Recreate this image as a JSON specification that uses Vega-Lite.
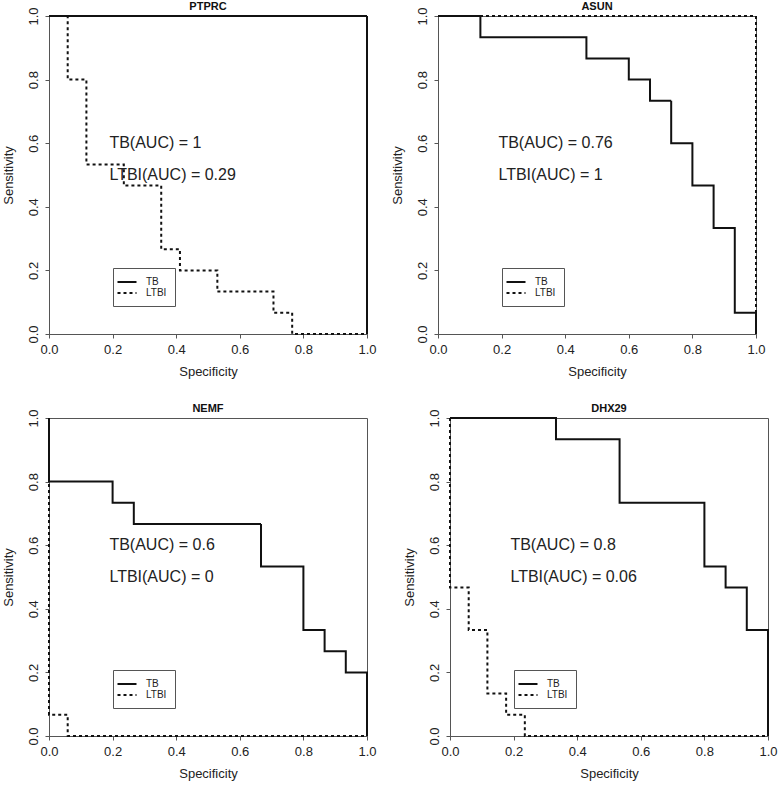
{
  "$schema": "https://vega.github.io/schema/vega-lite/v6.json",
  "padding": {"left": 1, "top": 0, "right": 0, "bottom": 0},
  "background": "white",
  "datasets": {
    "roc": [
      {"gene": "PTPRC", "group": "TB", "spec": 0, "sens": 1},
      {"gene": "PTPRC", "group": "TB", "spec": 1, "sens": 1},
      {"gene": "PTPRC", "group": "TB", "spec": 1, "sens": 0},
      {"gene": "PTPRC", "group": "LTBI", "spec": 0, "sens": 1},
      {"gene": "PTPRC", "group": "LTBI", "spec": 0.0588, "sens": 1},
      {"gene": "PTPRC", "group": "LTBI", "spec": 0.0588, "sens": 0.8},
      {"gene": "PTPRC", "group": "LTBI", "spec": 0.1176, "sens": 0.8},
      {"gene": "PTPRC", "group": "LTBI", "spec": 0.1176, "sens": 0.5333},
      {"gene": "PTPRC", "group": "LTBI", "spec": 0.2353, "sens": 0.5333},
      {"gene": "PTPRC", "group": "LTBI", "spec": 0.2353, "sens": 0.4667},
      {"gene": "PTPRC", "group": "LTBI", "spec": 0.3529, "sens": 0.4667},
      {"gene": "PTPRC", "group": "LTBI", "spec": 0.3529, "sens": 0.2667},
      {"gene": "PTPRC", "group": "LTBI", "spec": 0.4118, "sens": 0.2667},
      {"gene": "PTPRC", "group": "LTBI", "spec": 0.4118, "sens": 0.2},
      {"gene": "PTPRC", "group": "LTBI", "spec": 0.5294, "sens": 0.2},
      {"gene": "PTPRC", "group": "LTBI", "spec": 0.5294, "sens": 0.1333},
      {"gene": "PTPRC", "group": "LTBI", "spec": 0.7059, "sens": 0.1333},
      {"gene": "PTPRC", "group": "LTBI", "spec": 0.7059, "sens": 0.0667},
      {"gene": "PTPRC", "group": "LTBI", "spec": 0.7647, "sens": 0.0667},
      {"gene": "PTPRC", "group": "LTBI", "spec": 0.7647, "sens": 0},
      {"gene": "PTPRC", "group": "LTBI", "spec": 1, "sens": 0},

      {"gene": "ASUN", "group": "TB", "spec": 0, "sens": 1},
      {"gene": "ASUN", "group": "TB", "spec": 0.1333, "sens": 1},
      {"gene": "ASUN", "group": "TB", "spec": 0.1333, "sens": 0.9333},
      {"gene": "ASUN", "group": "TB", "spec": 0.4667, "sens": 0.9333},
      {"gene": "ASUN", "group": "TB", "spec": 0.4667, "sens": 0.8667},
      {"gene": "ASUN", "group": "TB", "spec": 0.6, "sens": 0.8667},
      {"gene": "ASUN", "group": "TB", "spec": 0.6, "sens": 0.8},
      {"gene": "ASUN", "group": "TB", "spec": 0.6667, "sens": 0.8},
      {"gene": "ASUN", "group": "TB", "spec": 0.6667, "sens": 0.7333},
      {"gene": "ASUN", "group": "TB", "spec": 0.7333, "sens": 0.7333},
      {"gene": "ASUN", "group": "TB", "spec": 0.7333, "sens": 0.6},
      {"gene": "ASUN", "group": "TB", "spec": 0.8, "sens": 0.6},
      {"gene": "ASUN", "group": "TB", "spec": 0.8, "sens": 0.4667},
      {"gene": "ASUN", "group": "TB", "spec": 0.8667, "sens": 0.4667},
      {"gene": "ASUN", "group": "TB", "spec": 0.8667, "sens": 0.3333},
      {"gene": "ASUN", "group": "TB", "spec": 0.9333, "sens": 0.3333},
      {"gene": "ASUN", "group": "TB", "spec": 0.9333, "sens": 0.0667},
      {"gene": "ASUN", "group": "TB", "spec": 1, "sens": 0.0667},
      {"gene": "ASUN", "group": "TB", "spec": 1, "sens": 0},
      {"gene": "ASUN", "group": "LTBI", "spec": 0, "sens": 1},
      {"gene": "ASUN", "group": "LTBI", "spec": 1, "sens": 1},
      {"gene": "ASUN", "group": "LTBI", "spec": 1, "sens": 0},

      {"gene": "NEMF", "group": "TB", "spec": 0, "sens": 1},
      {"gene": "NEMF", "group": "TB", "spec": 0, "sens": 0.8},
      {"gene": "NEMF", "group": "TB", "spec": 0.2, "sens": 0.8},
      {"gene": "NEMF", "group": "TB", "spec": 0.2, "sens": 0.7333},
      {"gene": "NEMF", "group": "TB", "spec": 0.2667, "sens": 0.7333},
      {"gene": "NEMF", "group": "TB", "spec": 0.2667, "sens": 0.6667},
      {"gene": "NEMF", "group": "TB", "spec": 0.6667, "sens": 0.6667},
      {"gene": "NEMF", "group": "TB", "spec": 0.6667, "sens": 0.5333},
      {"gene": "NEMF", "group": "TB", "spec": 0.8, "sens": 0.5333},
      {"gene": "NEMF", "group": "TB", "spec": 0.8, "sens": 0.3333},
      {"gene": "NEMF", "group": "TB", "spec": 0.8667, "sens": 0.3333},
      {"gene": "NEMF", "group": "TB", "spec": 0.8667, "sens": 0.2667},
      {"gene": "NEMF", "group": "TB", "spec": 0.9333, "sens": 0.2667},
      {"gene": "NEMF", "group": "TB", "spec": 0.9333, "sens": 0.2},
      {"gene": "NEMF", "group": "TB", "spec": 1, "sens": 0.2},
      {"gene": "NEMF", "group": "TB", "spec": 1, "sens": 0},
      {"gene": "NEMF", "group": "LTBI", "spec": 0, "sens": 1},
      {"gene": "NEMF", "group": "LTBI", "spec": 0, "sens": 0.0667},
      {"gene": "NEMF", "group": "LTBI", "spec": 0.0588, "sens": 0.0667},
      {"gene": "NEMF", "group": "LTBI", "spec": 0.0588, "sens": 0},
      {"gene": "NEMF", "group": "LTBI", "spec": 1, "sens": 0},

      {"gene": "DHX29", "group": "TB", "spec": 0, "sens": 1},
      {"gene": "DHX29", "group": "TB", "spec": 0.3333, "sens": 1},
      {"gene": "DHX29", "group": "TB", "spec": 0.3333, "sens": 0.9333},
      {"gene": "DHX29", "group": "TB", "spec": 0.5333, "sens": 0.9333},
      {"gene": "DHX29", "group": "TB", "spec": 0.5333, "sens": 0.7333},
      {"gene": "DHX29", "group": "TB", "spec": 0.8, "sens": 0.7333},
      {"gene": "DHX29", "group": "TB", "spec": 0.8, "sens": 0.5333},
      {"gene": "DHX29", "group": "TB", "spec": 0.8667, "sens": 0.5333},
      {"gene": "DHX29", "group": "TB", "spec": 0.8667, "sens": 0.4667},
      {"gene": "DHX29", "group": "TB", "spec": 0.9333, "sens": 0.4667},
      {"gene": "DHX29", "group": "TB", "spec": 0.9333, "sens": 0.3333},
      {"gene": "DHX29", "group": "TB", "spec": 1, "sens": 0.3333},
      {"gene": "DHX29", "group": "TB", "spec": 1, "sens": 0},
      {"gene": "DHX29", "group": "LTBI", "spec": 0, "sens": 1},
      {"gene": "DHX29", "group": "LTBI", "spec": 0, "sens": 0.4667},
      {"gene": "DHX29", "group": "LTBI", "spec": 0.0588, "sens": 0.4667},
      {"gene": "DHX29", "group": "LTBI", "spec": 0.0588, "sens": 0.3333},
      {"gene": "DHX29", "group": "LTBI", "spec": 0.1176, "sens": 0.3333},
      {"gene": "DHX29", "group": "LTBI", "spec": 0.1176, "sens": 0.1333},
      {"gene": "DHX29", "group": "LTBI", "spec": 0.1765, "sens": 0.1333},
      {"gene": "DHX29", "group": "LTBI", "spec": 0.1765, "sens": 0.0667},
      {"gene": "DHX29", "group": "LTBI", "spec": 0.2353, "sens": 0.0667},
      {"gene": "DHX29", "group": "LTBI", "spec": 0.2353, "sens": 0},
      {"gene": "DHX29", "group": "LTBI", "spec": 1, "sens": 0}
    ],
    "auc": [
      {"gene": "PTPRC", "group": "TB", "label": "TB(AUC) = 1"},
      {"gene": "PTPRC", "group": "LTBI", "label": "LTBI(AUC) = 0.29"},
      {"gene": "ASUN", "group": "TB", "label": "TB(AUC) = 0.76"},
      {"gene": "ASUN", "group": "LTBI", "label": "LTBI(AUC) = 1"},
      {"gene": "NEMF", "group": "TB", "label": "TB(AUC) = 0.6"},
      {"gene": "NEMF", "group": "LTBI", "label": "LTBI(AUC) = 0"},
      {"gene": "DHX29", "group": "TB", "label": "TB(AUC) = 0.8"},
      {"gene": "DHX29", "group": "LTBI", "label": "LTBI(AUC) = 0.06"}
    ]
  },
  "config": {
    "font": "Liberation Sans",
    "view": {"stroke": "#555", "strokeWidth": 1},
    "axis": {
      "grid": false, "domainColor": "#555", "tickColor": "#555", "tickSize": 4,
      "labelFontSize": 13, "titleFontSize": 13, "labelColor": "#222", "titleColor": "#222",
      "titleFontWeight": "normal", "labelFont": "Liberation Sans", "titleFont": "Liberation Sans"
    },
    "axisX": {"labelPadding": 5, "titlePadding": 9, "labelFlush": false},
    "axisY": {"labelAngle": -90, "labelAlign": "center", "labelBaseline": "bottom", "labelPadding": 5, "titlePadding": 12, "labelFlush": false},
    "title": {"fontSize": 11, "fontWeight": "bold", "offset": -5, "frame": "group", "color": "#111", "font": "Liberation Sans"},
    "legend": {
      "orient": "none", "legendX": 64, "legendY": 252, "title": null,
      "symbolType": "M-1.9,0L1.9,0", "symbolStrokeWidth": 2, "symbolSize": 100, "symbolStrokeColor": "#111",
      "labelFontSize": 10, "labelFont": "Liberation Sans Narrow, Liberation Sans", "labelColor": "#222", "labelOffset": 13,
      "strokeColor": "#555", "padding": 8, "rowPadding": 0, "fillColor": "white"
    }
  },
  "resolve": {"scale": {"strokeDash": "independent"}, "legend": {"strokeDash": "independent"}},
  "spacing": 23,
  "vconcat": [
    {
      "spacing": 13,
      "resolve": {"scale": {"strokeDash": "independent"}, "legend": {"strokeDash": "independent"}},
      "hconcat": [
        {
          "width": 318, "height": 318, "title": "PTPRC",
          "layer": [
            {
              "data": {"name": "roc"},
              "transform": [{"filter": {"field": "gene", "equal": "PTPRC"}}],
              "mark": {"type": "line", "strokeWidth": 2, "color": "#111", "clip": false},
              "encoding": {
                "x": {"field": "spec", "type": "quantitative", "title": "Specificity", "scale": {"domain": [0, 1], "nice": false}, "axis": {"values": [0, 0.2, 0.4, 0.6, 0.8, 1], "format": ".1f"}},
                "y": {"field": "sens", "type": "quantitative", "title": "Sensitivity", "scale": {"domain": [0, 1], "nice": false}, "axis": {"values": [0, 0.2, 0.4, 0.6, 0.8, 1], "format": ".1f"}},
                "strokeDash": {"field": "group", "type": "nominal", "scale": {"domain": ["TB", "LTBI"], "range": [[1, 0], [3, 3]]}},
                "order": [{"field": "spec", "type": "quantitative"}, {"field": "sens", "type": "quantitative", "sort": "descending"}]
              }
            },
            {
              "data": {"name": "auc"},
              "transform": [{"filter": {"field": "gene", "equal": "PTPRC"}}, {"filter": {"field": "group", "equal": "TB"}}],
              "mark": {"type": "text", "align": "left", "baseline": "middle", "fontSize": 16, "color": "#222"},
              "encoding": {"x": {"datum": 0.19, "type": "quantitative"}, "y": {"datum": 0.6, "type": "quantitative"}, "text": {"field": "label"}}
            },
            {
              "data": {"name": "auc"},
              "transform": [{"filter": {"field": "gene", "equal": "PTPRC"}}, {"filter": {"field": "group", "equal": "LTBI"}}],
              "mark": {"type": "text", "align": "left", "baseline": "middle", "fontSize": 16, "color": "#222"},
              "encoding": {"x": {"datum": 0.19, "type": "quantitative"}, "y": {"datum": 0.5, "type": "quantitative"}, "text": {"field": "label"}}
            }
          ]
        },
        {
          "width": 318, "height": 318, "title": "ASUN",
          "layer": [
            {
              "data": {"name": "roc"},
              "transform": [{"filter": {"field": "gene", "equal": "ASUN"}}],
              "mark": {"type": "line", "strokeWidth": 2, "color": "#111", "clip": false},
              "encoding": {
                "x": {"field": "spec", "type": "quantitative", "title": "Specificity", "scale": {"domain": [0, 1], "nice": false}, "axis": {"values": [0, 0.2, 0.4, 0.6, 0.8, 1], "format": ".1f"}},
                "y": {"field": "sens", "type": "quantitative", "title": "Sensitivity", "scale": {"domain": [0, 1], "nice": false}, "axis": {"values": [0, 0.2, 0.4, 0.6, 0.8, 1], "format": ".1f"}},
                "strokeDash": {"field": "group", "type": "nominal", "scale": {"domain": ["TB", "LTBI"], "range": [[1, 0], [3, 3]]}},
                "order": [{"field": "spec", "type": "quantitative"}, {"field": "sens", "type": "quantitative", "sort": "descending"}]
              }
            },
            {
              "data": {"name": "auc"},
              "transform": [{"filter": {"field": "gene", "equal": "ASUN"}}, {"filter": {"field": "group", "equal": "TB"}}],
              "mark": {"type": "text", "align": "left", "baseline": "middle", "fontSize": 16, "color": "#222"},
              "encoding": {"x": {"datum": 0.19, "type": "quantitative"}, "y": {"datum": 0.6, "type": "quantitative"}, "text": {"field": "label"}}
            },
            {
              "data": {"name": "auc"},
              "transform": [{"filter": {"field": "gene", "equal": "ASUN"}}, {"filter": {"field": "group", "equal": "LTBI"}}],
              "mark": {"type": "text", "align": "left", "baseline": "middle", "fontSize": 16, "color": "#222"},
              "encoding": {"x": {"datum": 0.19, "type": "quantitative"}, "y": {"datum": 0.5, "type": "quantitative"}, "text": {"field": "label"}}
            }
          ]
        }
      ]
    },
    {
      "spacing": 25,
      "resolve": {"scale": {"strokeDash": "independent"}, "legend": {"strokeDash": "independent"}},
      "hconcat": [
        {
          "width": 318, "height": 318, "title": "NEMF",
          "layer": [
            {
              "data": {"name": "roc"},
              "transform": [{"filter": {"field": "gene", "equal": "NEMF"}}],
              "mark": {"type": "line", "strokeWidth": 2, "color": "#111", "clip": false},
              "encoding": {
                "x": {"field": "spec", "type": "quantitative", "title": "Specificity", "scale": {"domain": [0, 1], "nice": false}, "axis": {"values": [0, 0.2, 0.4, 0.6, 0.8, 1], "format": ".1f"}},
                "y": {"field": "sens", "type": "quantitative", "title": "Sensitivity", "scale": {"domain": [0, 1], "nice": false}, "axis": {"values": [0, 0.2, 0.4, 0.6, 0.8, 1], "format": ".1f"}},
                "strokeDash": {"field": "group", "type": "nominal", "scale": {"domain": ["TB", "LTBI"], "range": [[1, 0], [3, 3]]}},
                "order": [{"field": "spec", "type": "quantitative"}, {"field": "sens", "type": "quantitative", "sort": "descending"}]
              }
            },
            {
              "data": {"name": "auc"},
              "transform": [{"filter": {"field": "gene", "equal": "NEMF"}}, {"filter": {"field": "group", "equal": "TB"}}],
              "mark": {"type": "text", "align": "left", "baseline": "middle", "fontSize": 16, "color": "#222"},
              "encoding": {"x": {"datum": 0.19, "type": "quantitative"}, "y": {"datum": 0.6, "type": "quantitative"}, "text": {"field": "label"}}
            },
            {
              "data": {"name": "auc"},
              "transform": [{"filter": {"field": "gene", "equal": "NEMF"}}, {"filter": {"field": "group", "equal": "LTBI"}}],
              "mark": {"type": "text", "align": "left", "baseline": "middle", "fontSize": 16, "color": "#222"},
              "encoding": {"x": {"datum": 0.19, "type": "quantitative"}, "y": {"datum": 0.5, "type": "quantitative"}, "text": {"field": "label"}}
            }
          ]
        },
        {
          "width": 318, "height": 318, "title": "DHX29",
          "layer": [
            {
              "data": {"name": "roc"},
              "transform": [{"filter": {"field": "gene", "equal": "DHX29"}}],
              "mark": {"type": "line", "strokeWidth": 2, "color": "#111", "clip": false},
              "encoding": {
                "x": {"field": "spec", "type": "quantitative", "title": "Specificity", "scale": {"domain": [0, 1], "nice": false}, "axis": {"values": [0, 0.2, 0.4, 0.6, 0.8, 1], "format": ".1f"}},
                "y": {"field": "sens", "type": "quantitative", "title": "Sensitivity", "scale": {"domain": [0, 1], "nice": false}, "axis": {"values": [0, 0.2, 0.4, 0.6, 0.8, 1], "format": ".1f"}},
                "strokeDash": {"field": "group", "type": "nominal", "scale": {"domain": ["TB", "LTBI"], "range": [[1, 0], [3, 3]]}},
                "order": [{"field": "spec", "type": "quantitative"}, {"field": "sens", "type": "quantitative", "sort": "descending"}]
              }
            },
            {
              "data": {"name": "auc"},
              "transform": [{"filter": {"field": "gene", "equal": "DHX29"}}, {"filter": {"field": "group", "equal": "TB"}}],
              "mark": {"type": "text", "align": "left", "baseline": "middle", "fontSize": 16, "color": "#222"},
              "encoding": {"x": {"datum": 0.19, "type": "quantitative"}, "y": {"datum": 0.6, "type": "quantitative"}, "text": {"field": "label"}}
            },
            {
              "data": {"name": "auc"},
              "transform": [{"filter": {"field": "gene", "equal": "DHX29"}}, {"filter": {"field": "group", "equal": "LTBI"}}],
              "mark": {"type": "text", "align": "left", "baseline": "middle", "fontSize": 16, "color": "#222"},
              "encoding": {"x": {"datum": 0.19, "type": "quantitative"}, "y": {"datum": 0.5, "type": "quantitative"}, "text": {"field": "label"}}
            }
          ]
        }
      ]
    }
  ]
}
